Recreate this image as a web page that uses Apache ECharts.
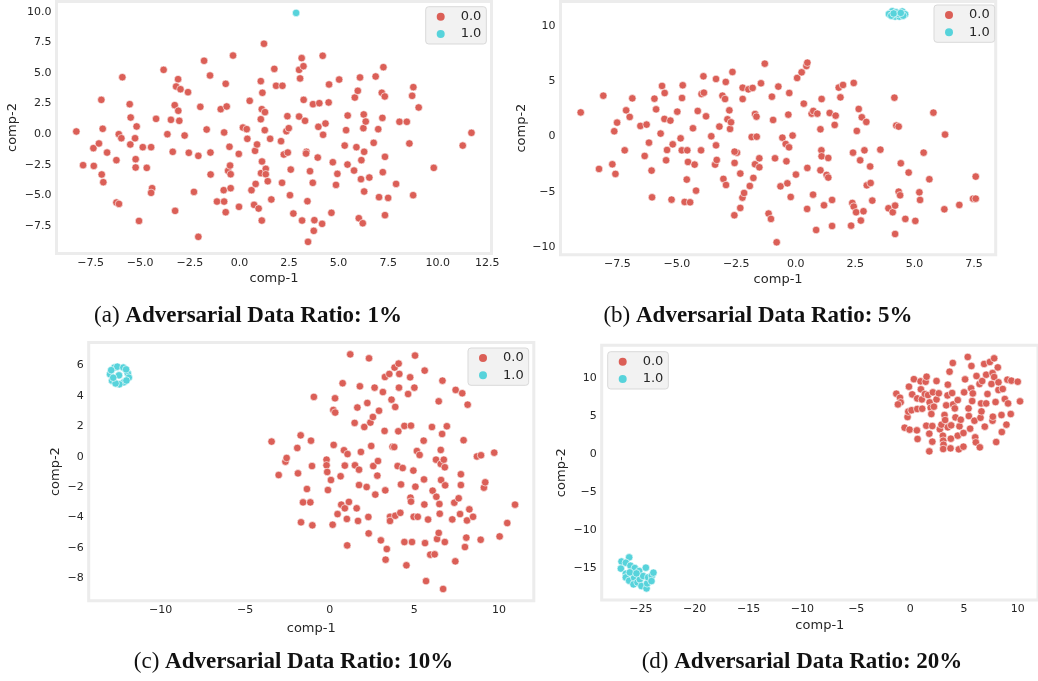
<!DOCTYPE html>
<html>
<head>
<meta charset="utf-8">
<script src="https://cdn.jsdelivr.net/npm/echarts@6/dist/echarts.min.js"></script>
<style>
html,body{margin:0;padding:0;background:#fff;}
#chart{width:1038px;height:681px;}
</style>
</head>
<body>
<div id="chart"></div>
<script>
// ---------- data (t-SNE components) ----------
const panelCaptions = ['Adversarial Data Ratio: 1%', 'Adversarial Data Ratio: 5%', 'Adversarial Data Ratio: 10%', 'Adversarial Data Ratio: 20%'];
const panelLetters = ['(a)', '(b)', '(c)', '(d)'];
const classNames = ['0.0', '1.0'];

// panel (a) 1%
const aClass0 = [[-8.22,0.22],[-7.88,-2.53],[-7.36,-1.14],[-7.34,-2.59],[-7.08,-0.76],[-6.96,2.80],[-6.89,0.44],[-6.94,-3.29],[-6.86,-3.92],[-6.67,-1.50],[-6.20,-2.12],[-6.20,-5.58],[-6.07,-5.69],[-5.90,4.65],[-6.08,0],[-5.95,-0.33],[-5.53,2.45],[-5.50,-0.84],[-5.48,1.36],[-5.26,-0.33],[-5.18,0.63],[-5.23,-2.04],[-5.23,-2.72],[-5.06,-7.08],[-4.87,-1.06],[-4.67,-2.75],[-4.45,-1.06],[-4.40,-4.41],[-4.45,-4.79],[-4.20,1.25],[-3.82,5.25],[-3.63,0],[-3.45,1.17],[-3.36,-1.44],[-3.26,2.37],[-3.24,-6.26],[-3.09,4.49],[-3.19,3.89],[-2.97,3.67],[-3.08,1.91],[-3.03,1.09],[-2.76,-0.11],[-2.59,3.43],[-2.55,-1.52],[-2.29,-4.71],[-2.07,-1.77],[-2.07,-8.38],[-1.97,2.23],[-1.78,5.99],[-1.65,0.38],[-1.48,4.79],[-1.46,-1.50],[-1.45,-3.29],[-1.13,-5.50],[-0.94,2.04],[-0.77,0.14],[-0.79,-4.57],[-0.77,-5.50],[-0.69,4.11],[-0.64,2.26],[-0.69,-6.37],[-0.57,-2.99],[-0.50,-1.03],[-0.47,-2.56],[-0.44,-3.27],[-0.44,-4.41],[-0.32,6.42],[-0.03,-1.61],[-0.02,-5.93],[0.18,0.54],[0.37,0.41],[0.40,-0.38],[0.52,2.72],[0.61,-4.57],[0.74,-5.77],[0.79,-1.36],[0.82,-4.06],[0.89,-0.84],[0.97,-6.07],[1.08,4.33],[1.08,1.22],[1.13,-7.05],[1.09,-3.18],[1.14,-2.23],[1.16,3.38],[1.13,2.04],[1.24,7.38],[1.29,1.80],[1.28,0.33],[1.33,-2.83],[1.33,-3.27],[1.43,-3.84],[1.55,-0.38],[1.61,-5.33],[1.76,5.33],[1.85,3.95],[2.10,-0.57],[2.15,-3.97],[2.17,3.95],[2.24,-1.66],[2.37,0.24],[2.42,1.47],[2.44,-1.50],[2.49,0.49],[2.55,-4.98],[2.59,-2.89],[2.72,-6.48],[3.01,5.25],[3.06,4.55],[3.01,1.44],[3.14,6.21],[3.16,-7.05],[3.23,5.55],[3.24,2.80],[3.31,1.09],[3.38,-1.44],[3.36,-1.58],[3.43,-5.47],[3.46,-8.79],[3.56,-3.02],[3.70,-3.97],[3.71,2.45],[3.75,-7.89],[3.78,-7.02],[3.95,-1.91],[3.98,0.60],[4.03,2.53],[4.17,-7.32],[4.20,6.40],[4.22,-0.05],[4.34,0.87],[4.50,2.59],[4.52,4.06],[4.64,-6.42],[4.71,-2.29],[4.87,-4.14],[4.94,-3.24],[5.03,4.46],[5.31,-0.93],[5.38,0.33],[5.45,-2.48],[5.46,1.52],[5.78,-2.97],[5.82,2.99],[5.90,-1.06],[5.97,3.54],[6.02,-6.86],[6.08,4.63],[6.13,-3.67],[6.15,-2.12],[6.22,-7.27],[6.25,0.49],[6.27,1.61],[6.29,-1.44],[6.29,-4.68],[6.37,1.03],[6.55,-3.54],[6.77,-0.71],[6.87,4.71],[7.00,0.41],[7.04,-5.14],[7.18,3.38],[7.21,1.33],[7.23,-3.10],[7.26,5.47],[7.33,3.08],[7.34,-1.85],[7.34,-6.61],[7.50,-5.20],[7.90,-4.06],[8.07,1.01],[8.44,1.01],[8.57,-0.76],[8.71,3.13],[8.76,-4.98],[8.77,3.84],[9.04,2.18],[9.80,-2.75],[11.26,-0.93],[11.70,0.11]];
const aClass1 = [[2.86,9.9]];

// panel (b) 5%
const bClass0 = [[-9.04,2.17],[-8.27,-2.93],[-8.09,3.68],[-7.71,-2.51],[-7.63,0.47],[-7.58,-3.38],[-7.51,1.25],[-7.19,-1.25],[-7.13,2.36],[-6.98,1.76],[-6.87,3.44],[-6.53,0.95],[-6.35,-1.76],[-6.27,1.07],[-6.17,-0.56],[-6.06,-3.08],[-6.04,-5.49],[-5.94,3.41],[-5.87,2.45],[-5.68,0.26],[-5.62,4.56],[-5.52,1.58],[-5.51,3.92],[-5.45,-2.15],[-5.41,-1.22],[-5.27,1.43],[-5.22,-5.70],[-5.17,-0.71],[-4.98,2.24],[-4.84,-0.17],[-4.78,3.47],[-4.75,4.62],[-4.79,-1.25],[-4.67,-5.91],[-4.58,-3.89],[-4.56,-1.25],[-4.53,-2.30],[-4.44,-5.94],[-4.32,0.74],[-4.25,-2.54],[-4.19,-4.89],[-4.12,2.30],[-3.98,-1.25],[-3.96,3.83],[-3.88,5.43],[-3.86,3.95],[-3.77,1.82],[-3.55,0.02],[-3.39,-2.54],[-3.35,5.19],[-3.35,-0.80],[-3.32,-2.12],[-3.21,0.89],[-3.08,3.68],[-3.04,-3.83],[-2.97,3.38],[-2.93,-4.38],[-2.94,4.92],[-2.87,1.55],[-2.79,2.36],[-2.76,0.68],[-2.72,1.28],[-2.66,5.82],[-2.58,-7.11],[-2.57,-2.39],[-2.47,-1.46],[-2.57,-1.37],[-2.33,-3.35],[-2.33,-6.45],[-2.24,-5.52],[-2.23,4.40],[-2.23,3.38],[-2.17,-5.10],[-1.99,4.25],[-1.93,-4.47],[-1.85,-0.05],[-1.81,4.38],[-1.78,-3.74],[-1.71,2.03],[-1.65,1.79],[-1.64,-0.02],[-1.71,-2.51],[-1.53,-2.78],[-1.53,-1.97],[-1.46,4.80],[-1.30,6.57],[-1.14,-6.96],[-1.04,-7.44],[-1.00,3.59],[-0.95,1.49],[-0.87,-1.97],[-0.80,-9.55],[-0.73,4.50],[-0.64,-4.50],[-0.56,-0.11],[-0.42,-0.68],[-0.39,-2.24],[-0.35,-4.23],[-0.31,1.97],[-0.28,-0.98],[-0.27,3.92],[-0.21,-5.46],[-0.13,0.08],[0.01,-3.44],[0.06,5.28],[0.25,5.79],[0.34,2.96],[0.45,6.36],[0.49,6.66],[0.48,-6.54],[0.49,-2.84],[0.67,2.06],[0.73,-5.25],[0.74,2.30],[0.86,-8.44],[0.91,2.06],[1.04,0.65],[1.08,-1.25],[1.09,3.38],[1.09,-1.79],[1.04,-3.05],[1.19,-6.21],[1.30,-3.47],[1.37,-3.71],[1.37,-1.94],[1.43,2.12],[1.53,-5.73],[1.53,-8.08],[1.64,1.04],[1.68,1.88],[1.81,4.41],[1.88,3.53],[1.99,4.65],[2.33,-8.05],[2.38,-6.00],[2.41,-1.46],[2.44,4.83],[2.44,-6.33],[2.54,-6.84],[2.57,0.50],[2.65,2.48],[2.71,-2.15],[2.74,-7.59],[2.78,1.73],[2.85,-6.75],[2.89,-1.25],[2.97,1.31],[2.99,-4.41],[3.13,-2.71],[3.15,-4.20],[3.22,-5.79],[3.56,-1.19],[3.90,-6.48],[4.08,-6.84],[4.15,3.50],[4.18,-6.24],[4.18,-8.80],[4.23,0.98],[4.33,0.89],[4.33,-4.98],[4.39,-5.31],[4.42,-2.42],[4.61,-7.44],[4.75,-3.26],[5.03,-7.62],[5.20,-5.04],[5.23,-5.73],[5.38,-1.46],[5.62,-3.86],[5.79,2.15],[6.25,-6.57],[6.28,0.17],[6.88,-6.18],[7.46,-5.61],[7.57,-5.61],[7.57,-3.62]];
const bClass1 = [[4.06,11.3],[3.92,11.05],[4.18,10.82],[4.36,10.82],[4.48,11.28],[4.60,11.03],[4.32,11.05],[4.22,11.2],[4.02,10.9],[4.52,10.9],[4.12,11.1],[4.42,11.15]];

// panel (c) 10%
const cClass0 = [[-3.44,1.00],[-3.02,-1.20],[-2.62,-0.32],[-2.55,-0.08],[-1.92,0.58],[-1.88,-1.09],[-1.72,1.41],[-1.70,-4.31],[-1.58,-3.00],[-1.35,-2.12],[-1.15,-3.00],[-1.11,1.06],[-1.05,-0.61],[-1.03,-4.51],[-0.94,3.94],[-0.19,-0.19],[-0.19,-0.56],[-0.15,-1.00],[-0.11,-2.19],[0.07,-1.53],[0.17,-4.47],[0.23,0.78],[0.21,3.08],[0.31,3.85],[0.32,2.91],[0.46,-3.77],[0.64,-1.28],[0.68,-3.15],[0.76,4.84],[0.84,0.43],[0.89,-3.39],[0.89,-0.58],[1.01,-4.09],[1.03,-5.83],[1.05,0.18],[1.13,-2.97],[1.21,6.74],[1.47,2.23],[1.49,-0.56],[1.59,-3.39],[1.63,3.24],[1.67,-4.22],[1.73,-1.86],[1.73,-0.85],[1.78,4.64],[1.84,0.32],[2.04,1.96],[2.18,-1.99],[2.22,3.54],[2.28,-3.96],[2.30,-5.04],[2.32,6.48],[2.40,2.25],[2.45,0.71],[2.55,2.62],[2.57,-0.61],[2.65,4.55],[2.69,-2.49],[2.81,-1.24],[2.85,-0.28],[2.91,3.03],[3.02,-5.50],[3.14,4.26],[3.24,1.70],[3.26,5.25],[3.28,-2.21],[3.30,-6.77],[3.37,-6.07],[3.52,5.45],[3.56,-3.95],[3.56,-4.22],[3.65,3.76],[3.71,0.66],[3.81,0.64],[3.83,5.87],[3.87,3.28],[3.87,-3.88],[4.01,-0.61],[4.05,1.68],[4.07,6.13],[4.09,4.55],[4.11,5.45],[4.17,-3.69],[4.21,-1.82],[4.31,-0.74],[4.41,-5.61],[4.41,2.03],[4.53,-7.14],[4.63,4.13],[4.75,5.23],[4.77,-2.69],[4.80,-2.95],[4.80,2.05],[4.86,-5.61],[4.94,-0.91],[5.00,4.55],[5.04,6.66],[4.96,-3.95],[5.06,-1.97],[5.15,0.38],[5.20,-3.95],[5.31,0.12],[5.55,1.06],[5.57,-1.49],[5.59,-3.14],[5.63,-5.68],[5.61,5.67],[5.69,-8.18],[5.81,-4.13],[5.94,-6.44],[6.04,1.96],[6.08,-2.23],[6.20,-6.42],[6.28,-0.19],[6.30,-2.63],[6.34,-5.41],[6.44,3.65],[6.44,-5.01],[6.48,-3.11],[6.50,-3.75],[6.56,0.45],[6.56,-0.47],[6.58,-1.53],[6.64,1.50],[6.66,5.01],[6.70,-8.70],[6.74,-0.19],[6.80,-0.69],[6.82,-1.88],[6.80,-5.61],[6.92,2.01],[7.24,-4.12],[7.36,-3.02],[7.42,-6.88],[7.44,4.40],[7.62,-2.73],[7.70,-3.77],[7.75,-1.15],[7.75,-1.86],[7.83,4.18],[7.91,1.09],[7.99,-5.94],[8.07,-5.32],[8.11,-4.19],[8.15,3.43],[8.25,-3.46],[8.47,-3.95],[8.70,0.02],[8.94,0.10],[8.92,-5.46],[9.11,-2.03],[9.19,-1.68],[9.72,0.27],[10.04,-5.24],[10.49,-4.36],[10.95,-3.15]];
const cClass1 = [[-12.99,5.43],[-12.87,5.01],[-12.73,5.87],[-12.56,5.93],[-12.20,5.87],[-11.94,5.49],[-11.88,5.21],[-12.17,4.90],[-12.44,4.77],[-12.66,4.83],[-12.46,5.36],[-12.92,5.70],[-12.04,5.75],[-12.02,5.02],[-12.80,5.20]];

// panel (d) 20%
const dClass0 = [[-1.28,7.93],[-0.94,7.40],[-0.88,6.79],[-1.13,6.52],[-0.51,3.45],[-0.24,4.86],[-0.17,5.57],[-0.11,8.86],[-0.05,3.19],[0.13,5.75],[0.19,7.84],[0.35,9.85],[0.63,3.10],[0.66,5.92],[0.69,1.96],[0.66,7.31],[0.97,9.56],[1.00,8.51],[1.09,7.18],[1.12,5.95],[1.37,7.89],[1.44,9.51],[1.50,3.71],[1.53,10.17],[1.66,7.75],[1.78,0.33],[1.78,2.66],[1.81,6.79],[1.91,6.08],[1.97,5.25],[2.06,3.67],[2.06,1.61],[2.21,6.22],[2.11,8.11],[2.45,9.60],[2.45,7.18],[2.66,7.98],[2.76,3.24],[2.91,3.85],[3.04,2.40],[3.07,1.74],[3.10,1.21],[3.07,0.64],[3.19,5.12],[3.25,4.46],[3.35,6.40],[3.47,7.71],[3.50,9.12],[3.50,3.50],[3.66,10.83],[3.75,0.73],[3.78,2.00],[3.81,3.76],[3.90,8.02],[3.96,11.98],[3.99,6.52],[4.15,5.99],[4.21,4.81],[4.42,7.09],[4.42,2.40],[4.52,0.60],[4.58,3.63],[4.70,4.50],[4.95,0.95],[4.95,2.75],[5.01,8.11],[5.10,9.82],[5.35,12.77],[5.42,5.99],[5.45,4.98],[5.57,3.32],[5.66,8.64],[5.69,11.58],[5.76,6.96],[5.82,7.97],[5.97,4.37],[6.04,2.18],[6.10,1.52],[6.16,10.26],[6.44,9.21],[6.47,0.86],[6.53,4.76],[6.59,6.65],[6.62,5.60],[6.69,9.60],[6.87,11.85],[6.93,3.59],[7.06,6.65],[7.06,10.43],[7.18,7.89],[7.40,12.11],[7.55,9.21],[7.65,10.65],[7.65,4.37],[7.68,4.90],[7.80,12.59],[7.80,10.13],[7.93,6.83],[7.99,1.56],[8.14,11.40],[8.20,8.42],[8.20,9.43],[8.48,5.12],[8.51,2.88],[8.60,8.55],[8.79,7.23],[8.94,3.85],[9.03,9.78],[9.09,6.65],[9.34,5.25],[9.40,9.65],[9.99,9.51],[10.20,6.92]];
const dClass1 = [[-26.79,-14.19],[-26.85,-15.12],[-26.08,-13.64],[-26.39,-14.35],[-26.39,-15.80],[-26.39,-16.28],[-26.08,-16.72],[-25.96,-14.74],[-25.56,-15.05],[-25.62,-16.32],[-25.68,-17.20],[-25.31,-16.94],[-25.15,-15.44],[-25.09,-16.54],[-24.94,-17.42],[-24.78,-16.10],[-24.53,-15.00],[-24.47,-17.73],[-24.41,-17.07],[-24.32,-16.28],[-23.98,-16.06],[-23.83,-15.66],[-24.01,-16.76],[-26.02,-15.62],[-25.40,-15.75]];

// tick labels
const aXTicks = [-7.5, -5, -2.5, 0, 2.5, 5, 7.5, 10, 12.5];
const aYTicks = [-7.5, -5, -2.5, 0, 2.5, 5, 7.5, 10];
const bXTicks = [-7.5, -5, -2.5, 0, 2.5, 5, 7.5];
const bYTicks = [-10, -5, 0, 5, 10];
const cXTicks = [-10, -5, 0, 5, 10];
const cYTicks = [-8, -6, -4, -2, 0, 2, 4, 6];
const dXTicks = [-25, -20, -15, -10, -5, 0, 5, 10];
const dYTicks = [-15, -10, -5, 0, 5, 10];

// ---------- layout ----------
const RED = '#db5f57', CYAN = '#57d3db', TXT = '#262626';
const panels = [
  {grid:{left:56.5, top:1.5, width:435, height:252}, x:[-9.22,12.71], y:[-9.74,10.83], xt:aXTicks, yt:aYTicks, xd:1, yd:1,
   d0:aClass0, d1:aClass1, xGap:19, yGap:37, legend:{left:425.7, top:6.7}, cap:[248,316]},
  {grid:{left:560.5, top:1.5, width:435.2, height:253.2}, x:[-9.89,8.41], y:[-10.67,12.18], xt:bXTicks, yt:bYTicks, xd:1, yd:0,
   d0:bClass0, d1:bClass1, xGap:18, yGap:32, legend:{left:934, top:5}, cap:[758,316]},
  {grid:{left:88.7, top:342.5, width:445.1, height:258.2}, x:[-14.25,12.06], y:[-9.47,7.52], xt:cXTicks, yt:cYTicks, xd:0, yd:0,
   d0:cClass0, d1:cClass1, xGap:21, yGap:27, legend:{left:468, top:348}, cap:[293.5,662]},
  {grid:{left:601.7, top:345.3, width:437.8, height:254.7}, x:[-28.63,11.87], y:[-19.26,14.31], xt:dXTicks, yt:dYTicks, xd:0, yd:0,
   d0:dClass0, d1:dClass1, xGap:19.5, yGap:33.5, legend:{left:607.7, top:351.7}, cap:[802,662]}
];

function fmt(d){ return v => (v < 0 ? '\u2212' : '') + Math.abs(v).toFixed(d); }

const option = {
  backgroundColor:'#ffffff',
  animation:false,
  grid:[], xAxis:[], yAxis:[], series:[], legend:[], graphic:[]
};

panels.forEach((p, i) => {
  option.grid.push(Object.assign({show:true, backgroundColor:'#ffffff', borderColor:'#ececec', borderWidth:3, containLabel:false}, p.grid));
  const labelStyle = {fontFamily:'DejaVu Sans', fontSize:11, color:TXT};
  option.xAxis.push({
    type:'value', gridIndex:i, min:p.x[0], max:p.x[1],
    name:'comp-1', nameLocation:'middle', nameGap:p.xGap,
    nameTextStyle:{fontFamily:'DejaVu Sans', fontSize:13, color:TXT},
    axisLine:{show:false}, axisTick:{show:false, customValues:p.xt}, splitLine:{show:false},
    axisLabel:Object.assign({customValues:p.xt, formatter:fmt(p.xd), margin:4}, labelStyle)
  });
  option.yAxis.push({
    type:'value', gridIndex:i, min:p.y[0], max:p.y[1],
    name:'comp-2', nameLocation:'middle', nameGap:p.yGap, nameRotate:90,
    nameTextStyle:{fontFamily:'DejaVu Sans', fontSize:13, color:TXT},
    axisLine:{show:false}, axisTick:{show:false, customValues:p.yt}, splitLine:{show:false},
    axisLabel:Object.assign({customValues:p.yt, formatter:fmt(p.yd), margin:5}, labelStyle)
  });
  [[p.d0, RED, classNames[0]], [p.d1, CYAN, classNames[1]]].forEach(([data, col, nm]) => {
    option.series.push({
      type:'scatter', name:nm, xAxisIndex:i, yAxisIndex:i, data:data,
      symbol:'circle', symbolSize:7.5,
      itemStyle:{color:col, borderColor:'#ffffff', borderWidth:0.6, opacity:1},
      emphasis:{disabled:true}
    });
  });
  option.legend.push({
    left:p.legend.left, top:p.legend.top, orient:'vertical',
    data:classNames.map(n => ({name:n, icon:'circle'})),
    itemWidth:30, itemHeight:8, itemGap:3.3,
    padding:[3,5,3,11],
    backgroundColor:'#f2f2f2', borderColor:'#d9d9d9', borderWidth:1, borderRadius:3,
    textStyle:{fontFamily:'DejaVu Sans', fontSize:13, color:TXT, lineHeight:14},
    itemStyle:{borderWidth:0},
    selectedMode:false
  });
  option.graphic.push({
    type:'text', x:p.cap[0], y:p.cap[1],
    style:{
      text:panelLetters[i] + ' {b|' + panelCaptions[i] + '}',
      align:'center', verticalAlign:'middle',
      font:'23px "Liberation Serif"', fill:'#111111',
      rich:{b:{fontFamily:'Liberation Serif', fontSize:23, fontWeight:'bold', fill:'#111111', color:'#111111'}}
    }
  });
});

const chart = echarts.init(document.getElementById('chart'), null, {renderer:'canvas'});
chart.setOption(option);
</script>
</body>
</html>
